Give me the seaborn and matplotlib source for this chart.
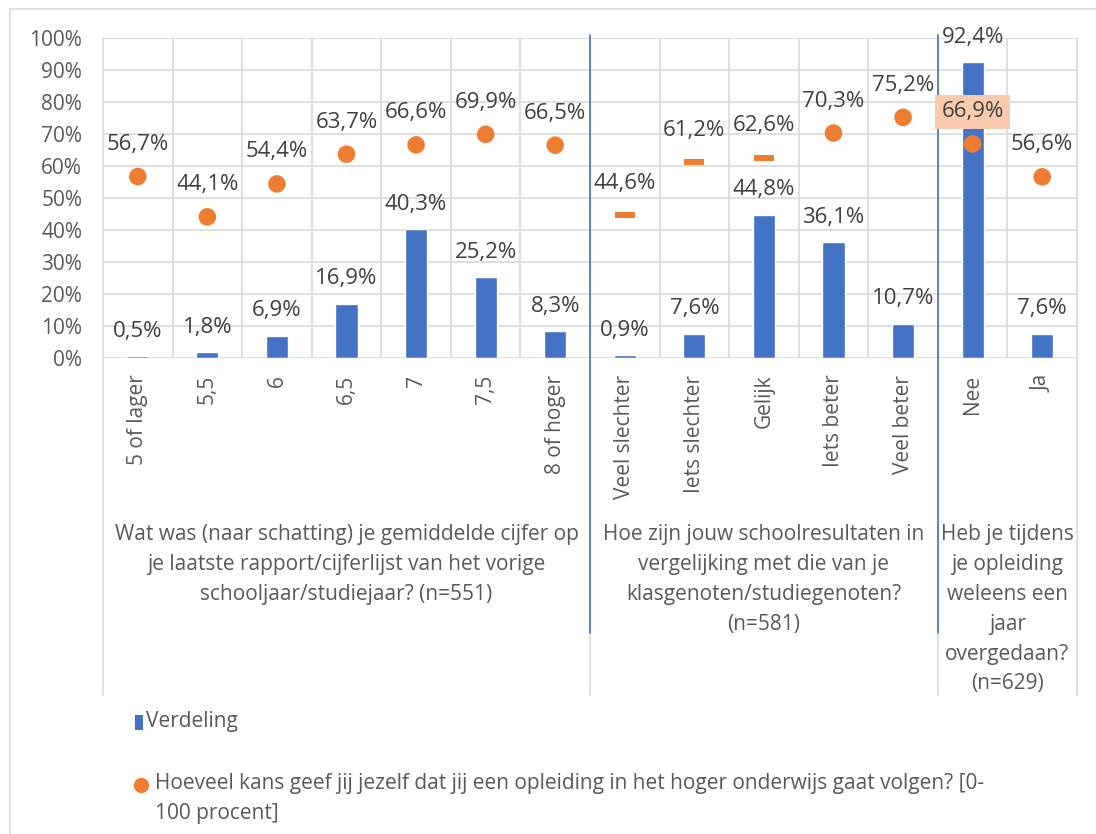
import numpy as np
import matplotlib.pyplot as plt
from matplotlib.lines import Line2D
from matplotlib.patches import Rectangle
from matplotlib.ticker import FuncFormatter, MultipleLocator
import seaborn as sns

# ── data ──────────────────────────────────────────────────────────────────────
categories = ["5 of lager", "5,5", "6", "6,5", "7", "7,5", "8 of hoger",
              "Veel slechter", "Iets slechter", "Gelijk", "Iets beter", "Veel beter",
              "Nee", "Ja"]
verdeling = [0.5, 1.8, 6.9, 16.9, 40.3, 25.2, 8.3,
             0.9, 7.6, 44.8, 36.1, 10.7,
             92.4, 7.6]
kans = [56.7, 44.1, 54.4, 63.7, 66.6, 69.9, 66.5,
        44.6, 61.2, 62.6, 70.3, 75.2,
        66.9, 56.6]
group_labels = [
    "Wat was (naar schatting) je gemiddelde cijfer op\nje laatste rapport/cijferlijst van het vorige\nschooljaar/studiejaar? (n=551)",
    "Hoe zijn jouw schoolresultaten in\nvergelijking met die van je\nklasgenoten/studiegenoten?\n(n=581)",
    "Heb je tijdens\nje opleiding\nweleens een\njaar\novergedaan?\n(n=629)",
]
group_sizes = [7, 5, 2]
dash_idx = [7, 8, 9]  # these points are drawn as short dashes in the original
legend_bar = "Verdeling"
legend_dot = "Hoeveel kans geef jij jezelf dat jij een opleiding in het hoger onderwijs gaat volgen? [0-\n100 procent]"

BLUE = "#4472C4"
ORANGE = "#ED7D31"
GRID = "#D9D9D9"
TXT = "#595959"
FS = 15

sns.set_theme(style="white")
plt.rcParams["font.family"] = ["Open Sans", "DejaVu Sans"]

fig = plt.figure(figsize=(10.96, 8.34), dpi=100)
ax = fig.add_axes([103 / 1096, 1 - 358 / 834, 974 / 1096, 320 / 834])

# chart border
fig.add_artist(Rectangle((10 / 1096, -0.01), 1.1, 1 - 9 / 834 + 0.01,
                         transform=fig.transFigure, fill=False,
                         edgecolor=GRID, linewidth=1.2))

x = np.arange(len(categories))

sns.barplot(x=categories, y=verdeling, order=categories, color=BLUE,
            width=0.32, saturation=1, ax=ax, zorder=3)

dot_mask = np.array([i not in dash_idx for i in range(len(categories))])
kans_arr = np.array(kans)
sns.scatterplot(x=x[dot_mask], y=kans_arr[dot_mask], color=ORANGE, s=160,
                edgecolor="none", ax=ax, zorder=4, legend=False)
dash = [(-1, -0.28), (1, -0.28), (1, 0.28), (-1, 0.28), (-1, -0.28)]
ax.scatter(x[~dot_mask], kans_arr[~dot_mask], marker=dash, s=190,
           color=ORANGE, linewidths=0, zorder=4)

# value labels
for xi, v in zip(x, verdeling):
    ax.annotate(f"{v:.1f}%".replace(".", ","), (xi, v), xytext=(0, 18),
                textcoords="offset points", ha="center", va="center",
                fontsize=16, color="#404040", zorder=5, annotation_clip=False)
for xi, v in zip(x, kans):
    bbox = None
    if categories[xi] == "Nee":
        bbox = dict(boxstyle="square,pad=0.3", facecolor="#F8CBAD", edgecolor="none")
    ax.annotate(f"{v:.1f}%".replace(".", ","), (xi, v), xytext=(0, 23),
                textcoords="offset points", ha="center", va="center",
                fontsize=16, color="#404040", zorder=5, bbox=bbox,
                annotation_clip=False)

# axes
ax.set_xlim(-0.5, len(categories) - 0.5)
ax.set_ylim(0, 100)
ax.yaxis.set_major_locator(MultipleLocator(10))
ax.yaxis.set_major_formatter(FuncFormatter(lambda v, p: f"{v:.0f}%"))
ax.grid(axis="y", color=GRID, linewidth=1.2, zorder=0)
for s in ax.spines.values():
    s.set_visible(False)
ax.tick_params(axis="y", length=0, pad=15, labelsize=FS, labelcolor=TXT)
ax.set_xticks(x)
ax.set_xticklabels(categories, rotation=90, fontsize=FS, color=TXT)
ax.tick_params(axis="x", length=0, pad=12)
ax.set_xlabel("")
ax.set_ylabel("")

# vertical grid between categories
xt = ax.get_xaxis_transform()
bounds = np.cumsum([0] + group_sizes) - 0.5
for b in np.arange(-0.5, len(categories), 1.0):
    if b in bounds:
        continue
    ax.plot([b, b], [0, 1], transform=xt, color=GRID, linewidth=1.2, zorder=1)

# group separators and outer edges extend under the axis
for b in bounds:
    ax.plot([b, b], [1, -1.053], transform=xt, color=GRID, linewidth=1.2,
            zorder=1, clip_on=False)
for b in bounds[1:-1]:
    ax.plot([b, b], [1.01, -0.86], transform=xt, color=BLUE, linewidth=1.2,
            zorder=2, clip_on=False)

# group labels
for lab, lo, hi in zip(group_labels, bounds[:-1], bounds[1:]):
    ax.text((lo + hi) / 2, -0.52, lab, transform=xt, ha="center", va="top",
            fontsize=FS, color=TXT, linespacing=1.55)

# legend
fig.add_artist(Rectangle((135 / 1096, 1 - 730 / 834), 8 / 1096, 15 / 834,
                         transform=fig.transFigure, facecolor=BLUE, edgecolor="none"))
fig.text(146 / 1096, 1 - 722 / 834, legend_bar, ha="left", va="center",
         fontsize=FS, color=TXT)
fig.add_artist(Line2D([141 / 1096], [1 - 785 / 834], marker="o", markersize=11,
                      color=ORANGE, markeredgewidth=0, transform=fig.transFigure))
fig.text(155 / 1096, 1 - 773 / 834, legend_dot, ha="left", va="top",
         fontsize=FS, color=TXT, linespacing=1.55)

fig.savefig("out.png", dpi=100)
